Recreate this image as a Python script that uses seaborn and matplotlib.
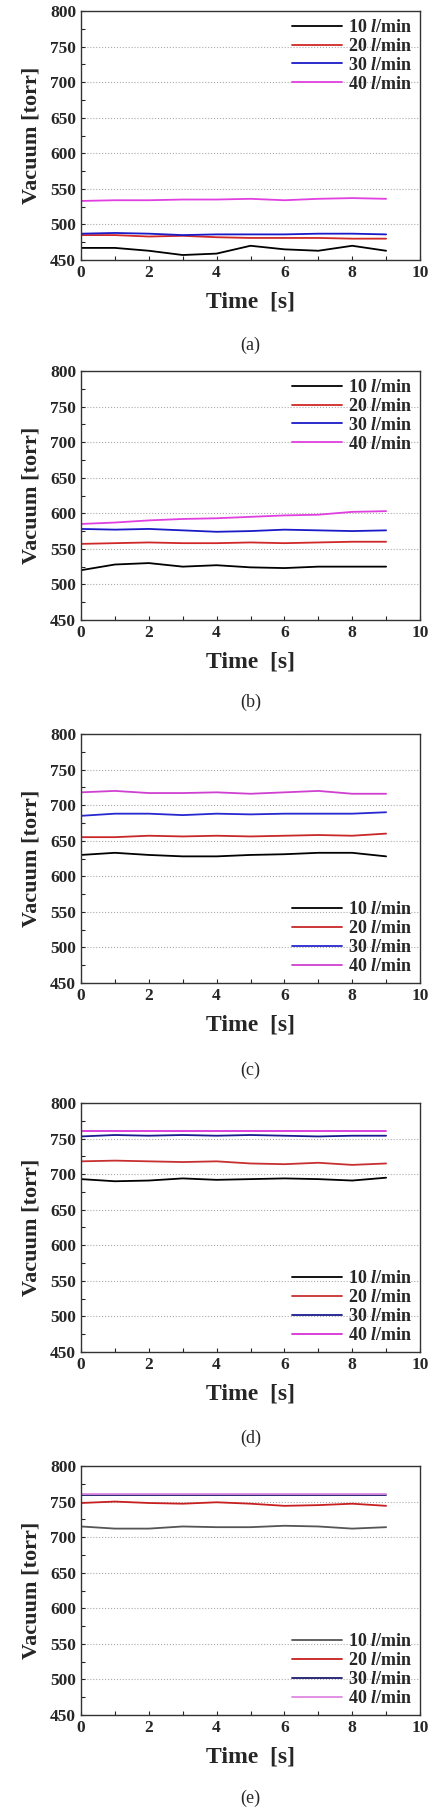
import matplotlib
matplotlib.use("Agg")
import matplotlib.pyplot as plt
import seaborn as sns
import pandas as pd
from matplotlib.ticker import MultipleLocator

sns.set_theme(style="white")
plt.rcParams['font.family'] = ['Liberation Serif', 'DejaVu Serif']
plt.rcParams['mathtext.fontset'] = 'custom'
plt.rcParams['mathtext.it'] = 'Liberation Serif:italic:bold'
plt.rcParams['mathtext.rm'] = 'Liberation Serif:bold'

time = list(range(10))
series_names = ["10 $l$/min", "20 $l$/min", "30 $l$/min", "40 $l$/min"]

a10 = [467, 467, 463, 457, 459, 470, 465, 463, 470, 463]
a20 = [485, 485, 483, 484, 482, 481, 481, 481, 480, 480]
a30 = [487, 488, 487, 485, 486, 486, 486, 487, 487, 486]
a40 = [533, 534, 534, 535, 535, 536, 534, 536, 537, 536]

b10 = [520, 528, 530, 525, 527, 524, 523, 525, 525, 525]
b20 = [557, 558, 559, 558, 558, 559, 558, 559, 560, 560]
b30 = [578, 577, 578, 576, 574, 575, 577, 576, 575, 576]
b40 = [585, 587, 590, 592, 593, 595, 597, 598, 602, 603]

c10 = [630, 633, 630, 628, 628, 630, 631, 633, 633, 628]
c20 = [655, 655, 657, 656, 657, 656, 657, 658, 657, 660]
c30 = [685, 688, 688, 686, 688, 687, 688, 688, 688, 690]
c40 = [718, 720, 717, 717, 718, 716, 718, 720, 716, 716]

d10 = [693, 690, 691, 694, 692, 693, 694, 693, 691, 695]
d20 = [718, 719, 718, 717, 718, 715, 714, 716, 713, 715]
d30 = [753, 755, 754, 755, 754, 755, 754, 753, 754, 754]
d40 = [760, 760, 760, 760, 760, 760, 760, 760, 760, 760]

e10 = [715, 712, 712, 715, 714, 714, 716, 715, 712, 714]
e20 = [748, 750, 748, 747, 749, 747, 744, 745, 747, 744]
e30 = [759, 759, 759, 759, 759, 759, 759, 759, 759, 759]
e40 = [760, 760, 760, 760, 760, 760, 760, 760, 760, 760]

panels = [
    ("(a)", [a10, a20, a30, a40], ["#000000", "#d02828", "#1a1ac8", "#e040e0"], "upper right"),
    ("(b)", [b10, b20, b30, b40], ["#000000", "#d02828", "#1a1ac8", "#e040e0"], "upper right"),
    ("(c)", [c10, c20, c30, c40], ["#000000", "#c82828", "#2828d0", "#d040d0"], "lower right"),
    ("(d)", [d10, d20, d30, d40], ["#000000", "#c83030", "#1a1a90", "#d830d8"], "lower right"),
    ("(e)", [e10, e20, e30, e40], ["#555555", "#c82020", "#1a1a70", "#e088e0"], "lower right"),
]

W, H = 434, 1814
fig = plt.figure(figsize=(W / 100, H / 100), dpi=100)
bottoms_px = [260, 620, 983, 1352, 1715]
label_px = [345, 702, 1070, 1438, 1798]

for (lab, data, cols, loc), bpx, lpx in zip(panels, bottoms_px, label_px):
    ax = fig.add_axes([81 / W, 1 - bpx / H, 339 / W, 249 / H])
    rows = []
    for name, vals in zip(series_names, data):
        for t, v in zip(time, vals):
            rows.append({"Time": t, "Vacuum": v, "Flow": name})
    df = pd.DataFrame(rows)
    sns.lineplot(data=df, x="Time", y="Vacuum", hue="Flow", palette=cols,
                 linewidth=1.3, ax=ax)
    ax.set_xlim(0, 10)
    ax.set_ylim(450, 800)
    ax.xaxis.set_major_locator(MultipleLocator(2))
    ax.xaxis.set_minor_locator(MultipleLocator(1))
    ax.yaxis.set_major_locator(MultipleLocator(50))
    ax.yaxis.set_minor_locator(MultipleLocator(25))
    ax.tick_params(which='both', direction='in', length=3, width=0.8,
                   bottom=True, left=True, labelsize=12.5)
    for tl in ax.get_xticklabels() + ax.get_yticklabels():
        tl.set_fontweight('bold')
    ax.grid(axis='y', which='major', linestyle=':', color='#aaaaaa', linewidth=0.8)
    for s in ax.spines.values():
        s.set_color('#333333')
        s.set_linewidth(1.0)
    ax.set_xlabel("Time  [s]", fontsize=17, fontweight='bold', labelpad=8)
    ax.set_ylabel("Vacuum [torr]", fontsize=16, fontweight='bold', labelpad=6)
    leg = ax.legend(loc=loc, frameon=False, fontsize=13, handlelength=2.8,
                    borderaxespad=0.05, labelspacing=0.1, handletextpad=0.3)
    for t in leg.get_texts():
        t.set_fontweight('bold')
    fig.text((81 + 420) / 2 / W, 1 - lpx / H, lab, ha='center',
             va='center', fontsize=13)

fig.savefig("out.png", dpi=100)
